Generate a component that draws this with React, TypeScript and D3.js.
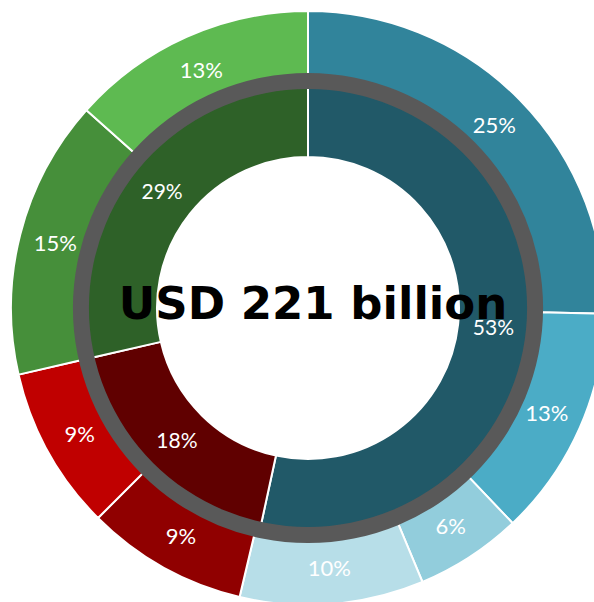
import * as d3 from 'd3';

// outer ring: sub-categories, clockwise from 12 o'clock
const outerValues = [25.3, 12.6, 5.8, 10.0, 8.8, 8.9, 15.2, 13.4];
const outerLabels = ['25%', '13%', '6%', '10%', '9%', '9%', '15%', '13%'];
const outerColors = ['#31849B', '#4BACC6', '#92CDDC', '#B7DEE8', '#900000', '#C00000', '#468F3A', '#5EBA51'];

// inner ring: groups
const innerValues = [53.4, 18.0, 28.6];
const innerLabels = ['53%', '18%', '29%'];
const innerColors = ['#215968', '#600000', '#2E6128'];

const centerTitle = 'USD 221 billion';

const width = 594;
const height = 602;
const cx = 308;
const cy = 308;

const App = () => {
  const pie = d3.pie<number>().sort(null).value(d => d);
  const outerArcs = pie(outerValues);
  const innerArcs = pie(innerValues);

  const outerArc = d3.arc<d3.PieArcDatum<number>>().innerRadius(230).outerRadius(297);
  const innerArc = d3.arc<d3.PieArcDatum<number>>().innerRadius(151).outerRadius(222);
  const outerLabelArc = d3.arc<d3.PieArcDatum<number>>().innerRadius(261).outerRadius(261);
  const ringArc = d3.arc()({ innerRadius: 219, outerRadius: 235, startAngle: 0, endAngle: 2 * Math.PI }) as string;

  const labelFont = 'Lato, "Noto Sans", sans-serif';

  return (
    <svg width={width} height={height} style={{ position: 'absolute', left: 0, top: 0 }}>
      <g transform={`translate(${cx},${cy})`}>
        {outerArcs.map((a, i) => (
          <path key={'o' + i} d={outerArc(a) as string} fill={outerColors[i]} stroke="#fff" strokeWidth={2} />
        ))}
        {innerArcs.map((a, i) => (
          <path key={'i' + i} d={innerArc(a) as string} fill={innerColors[i]} stroke="#fff" strokeWidth={2} />
        ))}
        <path d={ringArc} fill="#595959" />
        {outerArcs.map((a, i) => {
          const [x, y] = outerLabelArc.centroid(a);
          return (
            <text key={'ol' + i} x={x} y={y} dy="0.35em" textAnchor="middle" fill="#fff"
              fontFamily={labelFont} fontSize={22}>
              {outerLabels[i]}
            </text>
          );
        })}
        {innerArcs.map((a, i) => {
          const [x, y] = innerArc.centroid(a);
          return (
            <text key={'il' + i} x={x} y={y} dy="0.35em" textAnchor="middle" fill="#fff"
              fontFamily={labelFont} fontSize={21}>
              {innerLabels[i]}
            </text>
          );
        })}
        <text x={5} y={11} textAnchor="middle" fill="#000" fontFamily='"DejaVu Sans", sans-serif'
          fontWeight="bold" fontSize={45}>
          {centerTitle}
        </text>
      </g>
    </svg>
  );
};

export default App;
